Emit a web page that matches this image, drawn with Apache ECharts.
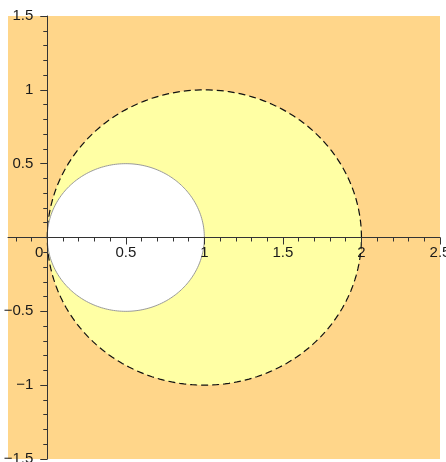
<!DOCTYPE html>
<html>
<head>
<meta charset="utf-8">
<script src="https://cdn.jsdelivr.net/npm/echarts@6/dist/echarts.min.js"></script>
<style>html,body{margin:0;padding:0;background:#fff}#c{width:446px;height:462px}</style>
</head>
<body>
<div id="c"></div>
<script>
// Regions: disc centres and radii (outer disc, inner hole)
const regionNames = ['outer', 'inner'];
const centerX = [1, 0.5];
const centerY = [0, 0];
const radii = [1, 0.5];
// Axis ranges and tick labels
const xRange = [-0.25, 2.5];
const yRange = [-1.5, 1.5];
const xMajorTicks = [0, 0.5, 1, 1.5, 2, 2.5];
const xMinorTicks = [-0.2, -0.1, 0.1, 0.2, 0.3, 0.4, 0.6, 0.7, 0.8, 0.9, 1.1, 1.2, 1.3, 1.4, 1.6, 1.7, 1.8, 1.9, 2.1, 2.2, 2.3, 2.4];
const xTickLabels = [0, 0.5, 1, 1.5, 2, 2.5];
const yTickLabels = [-1.5, -1, -0.5, 0.5, 1, 1.5];

const regionStyles = {
  outer: { fill: '#FFFFA4', stroke: '#111', lineWidth: 1.2, lineDash: [7, 4] },
  inner: { fill: '#FFFFFF', stroke: '#9a9a9a', lineWidth: 1, lineDash: null }
};

const regionData = regionNames.map((n, i) => [centerX[i], centerY[i], radii[i], n]);

const W = 446, H = 462;
const gridBox = { left: 8, top: 16, right: 6, bottom: 3 };
const gridW = W - gridBox.left - gridBox.right;
const gridH = H - gridBox.top - gridBox.bottom;
// place axes through the origin by offsetting them from the grid edges
const xAxisOffset = -gridH * (0 - yRange[0]) / (yRange[1] - yRange[0]);
const yAxisOffset = -gridW * (0 - xRange[0]) / (xRange[1] - xRange[0]);

const chart = echarts.init(document.getElementById('c'), null, { renderer: 'canvas' });
const fontFamily = '"Liberation Sans Narrow", "Liberation Sans", sans-serif';
const fontSize = 15;
const axisColor = '#333';
const labelColor = '#1a1a1a';

chart.setOption({
  animation: false,
  backgroundColor: '#ffffff',
  grid: Object.assign({ show: true, backgroundColor: '#FFD68A', borderWidth: 0, containLabel: false,
    outerBounds: { left: -300, top: -300, right: -300, bottom: -300 } }, gridBox),
  xAxis: [{
    type: 'value', min: xRange[0], max: xRange[1], position: 'bottom', offset: xAxisOffset, z: 10,
    axisLine: { onZero: false, lineStyle: { color: axisColor, width: 1 } },
    axisTick: { show: true, customValues: xMajorTicks, length: 7, lineStyle: { color: axisColor } },
    axisLabel: {
      customValues: xTickLabels, margin: 8, color: labelColor, fontFamily: fontFamily, fontSize: fontSize,
      formatter: v => v === 0 ? '{o|0}' : String(v),
      rich: { o: { padding: [0, 16, 0, 0], fontFamily: fontFamily, fontSize: fontSize, color: labelColor } }
    },
    splitLine: { show: false }
  }, {
    type: 'value', min: xRange[0], max: xRange[1], position: 'bottom', offset: xAxisOffset, z: 10,
    axisLine: { show: false, onZero: false },
    axisTick: { show: true, customValues: xMinorTicks, length: 4, lineStyle: { color: axisColor } },
    axisLabel: { show: false },
    splitLine: { show: false }
  }],
  yAxis: [{
    type: 'value', min: yRange[0], max: yRange[1], interval: 0.5, position: 'left', offset: yAxisOffset, z: 10,
    axisLine: { onZero: false, lineStyle: { color: axisColor, width: 1 } },
    axisTick: { show: true, length: 7, lineStyle: { color: axisColor } },
    minorTick: { show: true, splitNumber: 5, length: 4, lineStyle: { color: axisColor } },
    axisLabel: { customValues: yTickLabels, margin: 14, color: labelColor, fontFamily: fontFamily, fontSize: fontSize,
      formatter: v => String(v).replace('-', '\u2212') },
    splitLine: { show: false },
    minorSplitLine: { show: false }
  }],
  series: [{
    type: 'custom',
    xAxisIndex: 0, yAxisIndex: 0,
    coordinateSystem: 'cartesian2d',
    clip: true,
    data: regionData,
    renderItem: function (params, api) {
      const cx = api.value(0), cy = api.value(1), r = api.value(2);
      const name = regionNames[params.dataIndex];
      const st = regionStyles[name];
      const pts = [];
      const N = 240;
      for (let k = 0; k < N; k++) {
        const t = 2 * Math.PI * k / N;
        pts.push(api.coord([cx + r * Math.cos(t), cy + r * Math.sin(t)]));
      }
      return {
        type: 'polygon',
        shape: { points: pts },
        style: { fill: st.fill, stroke: st.stroke, lineWidth: st.lineWidth, lineDash: st.lineDash }
      };
    }
  }]
});
</script>
</body>
</html>
